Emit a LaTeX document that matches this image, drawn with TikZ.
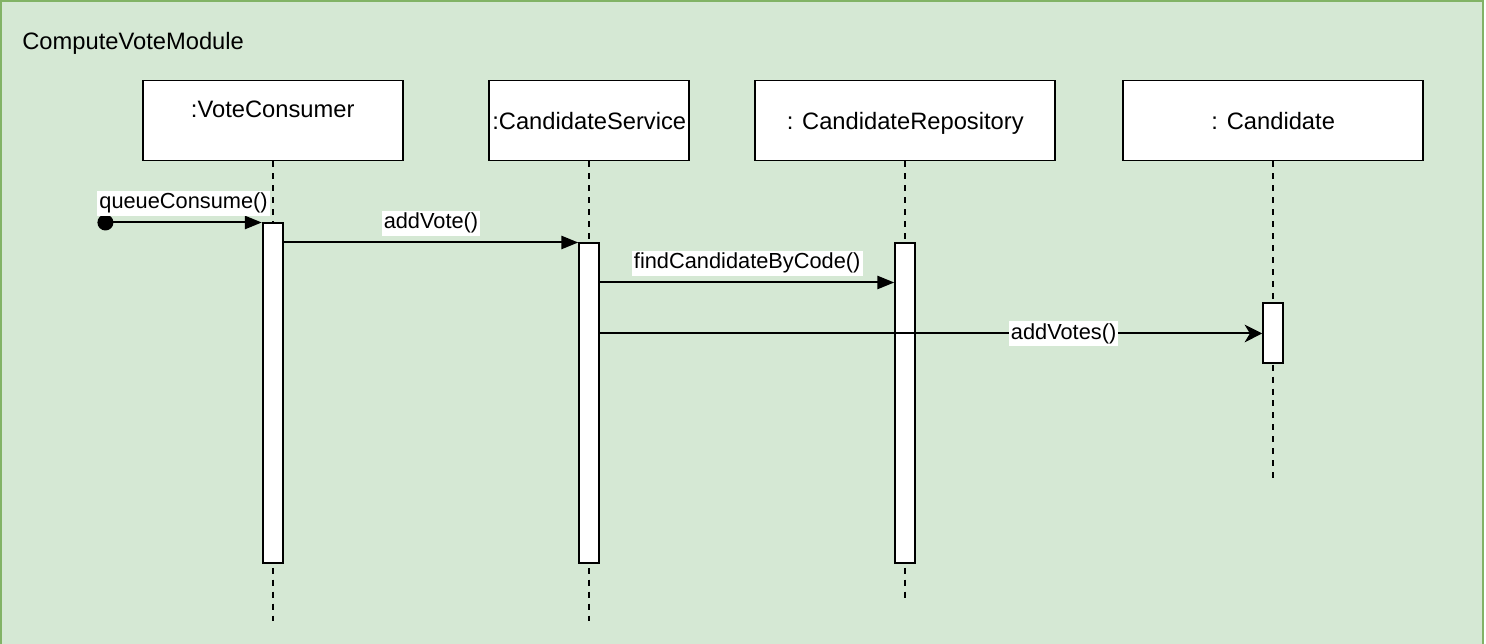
\documentclass[tikz,border=0pt]{standalone}
\usepackage{fontspec}
\setmainfont{Liberation Sans}
\usetikzlibrary{positioning,arrows.meta}
\definecolor{frameFill}{HTML}{D5E8D4}
\definecolor{frameDraw}{HTML}{82B366}
\begin{document}
\begin{tikzpicture}

  % Definitions
  \tikzstyle{Frame} = [draw=frameDraw, fill=frameFill, line width=1.3pt]
  \tikzstyle{Head} = [rectangle, minimum height=1.6cm, inner xsep=1pt, text height=10.8pt, text depth=0pt, text centered, draw=black, fill=white, line width=1.13pt, font=\fontsize{13.5}{16}\selectfont]
  \tikzstyle{Bar} = [rectangle, minimum width=0.4cm, inner sep=0pt, draw=black, fill=white, line width=1.13pt]
  \tikzstyle{Life} = [line width=1.13pt, dash pattern=on 3.4pt off 3.4pt]
  \tikzstyle{Msg} = [fill=white, inner sep=1.2pt, font=\fontsize{12.4}{15}\selectfont]
  \tikzstyle{Sync} = [line width=1.13pt, -{Triangle[length=9.6pt,width=7.5pt]}]
  \tikzstyle{Async} = [line width=1.13pt, -{Stealth[length=10pt,width=10pt,inset=3pt]}]
  \tikzstyle{Dot} = [circle, fill=black, minimum size=0.32cm, inner sep=0pt]

  \useasboundingbox (0,0) rectangle (29.72,-12.88);
  \draw [Frame] (0.02,-0.02) rectangle (29.66,-13.5);
  \node (Title) [anchor=base west, inner sep=0pt, font=\fontsize{13.5}{16}\selectfont] at (0.44,-1.0) {ComputeVoteModule};

  % lifeline heads
  \node (VC) [Head, minimum width=5.2cm, text depth=14.7pt] at (5.455,-2.41) {:VoteConsumer};
  \node (CS) [Head, minimum width=4cm, right=1.69cm of VC] {:CandidateService};
  \node (CR) [Head, minimum width=6cm, right=1.28cm of CS] {: CandidateRepository};
  \node (C) [Head, minimum width=6cm, right=1.32cm of CR] {: Candidate};

  \coordinate [below=9.19cm of VC] (VCend);
  \coordinate [below=9.19cm of CS] (CSend);
  \coordinate [below=8.79cm of CR] (CRend);
  \coordinate [below=6.39cm of C] (Cend);

  \draw [Life] (VC) -- (VCend);
  \draw [Life] (CS) -- (CSend);
  \draw [Life] (CR) -- (CRend);
  \draw [Life] (C) -- (Cend);

  % activations
  \node (VCbar) [Bar, minimum height=6.8cm, below=1.22cm of VC] {};
  \node (CSbar) [Bar, minimum height=6.4cm, below=1.62cm of CS] {};
  \node (CRbar) [Bar, minimum height=6.4cm, below=1.62cm of CR] {};
  \node (Cbar) [Bar, minimum height=1.2cm, below=2.82cm of C] {};

  % messages
  \node (Start) [Dot, left=2.96cm of VCbar.north west] {};
  \draw [Sync] (Start.center) -- node [Msg, above=3.4pt] {queueConsume()} (VCbar.north west);
  \draw [Sync] (VCbar.east |- CSbar.north) -- node [Msg, above=3.4pt] {addVote()} (CSbar.north west);
  \draw [Sync] ([yshift=-0.8cm]CSbar.north east) -- node [Msg, above=3.4pt] {findCandidateByCode()} ([yshift=-0.8cm]CRbar.north west);
  \draw [Async] (CSbar.east |- Cbar.west) -- node [Msg, pos=0.7] {addVotes()} (Cbar.west);

\end{tikzpicture}
\end{document}
